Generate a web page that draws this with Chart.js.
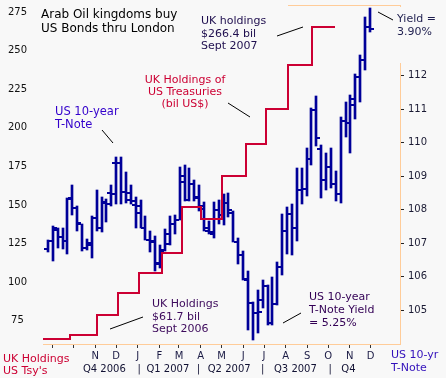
<!DOCTYPE html>
<html>
<head>
<meta charset="utf-8">
<script src="https://cdn.jsdelivr.net/npm/chart.js@4.4.0/dist/chart.umd.min.js"></script>
<style>
html,body{margin:0;padding:0;background:#f8f8f8;}
canvas{display:block;}
</style>
</head>
<body>
<canvas id="c" width="446" height="378"></canvas>
<script>
// ---------- DATA ----------
// Weekly US 10-year T-Note price bars (Fridays)
const weekDates = [
 '2006-08-25','2006-09-01','2006-09-08','2006-09-15','2006-09-22','2006-09-29',
 '2006-10-06','2006-10-13','2006-10-20','2006-10-27','2006-11-03','2006-11-10',
 '2006-11-17','2006-11-24','2006-12-01','2006-12-08','2006-12-15','2006-12-22',
 '2006-12-29','2007-01-05','2007-01-12','2007-01-19','2007-01-26','2007-02-02',
 '2007-02-09','2007-02-16','2007-02-23','2007-03-02','2007-03-09','2007-03-16',
 '2007-03-23','2007-03-30','2007-04-06','2007-04-13','2007-04-20','2007-04-27',
 '2007-05-04','2007-05-11','2007-05-18','2007-05-25','2007-06-01','2007-06-08',
 '2007-06-15','2007-06-22','2007-06-29','2007-07-06','2007-07-13','2007-07-20',
 '2007-07-27','2007-08-03','2007-08-10','2007-08-17','2007-08-24','2007-08-31',
 '2007-09-07','2007-09-14','2007-09-21','2007-09-28','2007-10-05','2007-10-12',
 '2007-10-19','2007-10-26','2007-11-02','2007-11-09','2007-11-16','2007-11-23',
 '2007-11-30'
];
const tnOpen = [
 106.84,107.06,107.41,107.20,107.08,108.36,108.05,107.59,106.85,106.96,107.74,107.45,
 108.20,108.49,109.38,109.38,108.54,108.29,108.15,107.90,107.47,107.10,107.05,106.41,
 106.79,107.28,107.57,107.70,109.00,108.29,108.76,108.38,108.02,107.38,107.28,107.99,
 107.85,108.21,107.91,107.05,106.64,105.92,105.21,104.92,105.31,105.72,104.64,105.19,
 106.29,107.38,107.87,107.46,108.58,108.61,109.50,110.97,109.80,108.88,109.27,108.77,
 108.46,110.63,110.58,111.12,111.95,112.45,113.43
];
const tnHigh = [
 107.10,107.53,107.46,107.46,108.36,108.74,108.12,107.59,107.13,107.80,108.59,108.39,
 108.31,108.73,109.56,109.56,109.13,108.73,108.38,108.29,107.80,107.38,107.23,106.94,
 107.43,107.80,107.84,109.28,109.32,109.25,108.90,108.73,108.24,107.67,108.23,108.28,
 108.48,108.51,107.97,107.16,106.77,106.18,105.26,105.61,105.90,105.75,106.00,106.44,
 107.87,108.07,108.17,109.25,109.25,109.84,111.02,111.39,109.94,109.69,109.84,109.15,
 110.77,111.22,111.43,112.05,112.61,113.73,114.00
];
const tnLow = [
 106.74,106.47,106.87,106.84,106.67,107.85,107.38,106.77,106.81,106.56,107.38,107.33,
 107.62,108.12,108.17,108.18,108.20,108.17,107.46,107.47,107.10,106.74,106.18,106.25,
 106.76,106.96,107.28,107.69,108.26,108.26,108.26,107.97,107.36,107.28,107.16,107.57,
 107.55,107.77,107.03,106.39,105.90,104.42,104.13,104.33,105.07,104.57,104.57,105.16,
 106.05,106.69,106.64,107.08,108.17,108.41,109.33,109.89,108.36,108.58,108.66,108.26,
 108.20,110.18,109.69,110.71,111.22,112.15,113.29
];
const tnClose = [
 107.06,107.46,107.20,107.08,108.33,108.05,107.61,106.85,107.01,107.74,107.45,108.24,
 108.17,108.46,109.38,108.53,108.49,108.26,108.10,107.47,107.10,107.08,106.39,106.74,
 106.98,107.57,107.69,108.83,108.29,108.77,108.36,108.12,107.47,107.33,107.99,107.85,
 108.21,107.99,107.05,106.64,105.95,105.21,104.92,104.94,105.72,104.64,105.19,106.29,
 107.38,107.87,107.46,108.58,108.61,109.50,110.97,110.13,108.88,109.27,108.77,108.46,
 110.63,110.58,111.31,111.95,112.45,113.43,113.38
];

// UK holdings of US Treasuries (bil US$), step series
const ukDates = [
 '2006-08-18','2006-09-26','2006-11-03','2006-12-04','2007-01-03','2007-02-04',
 '2007-03-06','2007-04-01','2007-05-02','2007-06-05','2007-07-04','2007-08-05',
 '2007-09-08','2007-10-11'
];
const ukHoldings = [63.0,65.8,78.6,93.2,106.1,119.2,148.6,140.7,168.5,189.8,211.9,240.8,265.4,265.4];

// Axis ticks
const monthTickDates = ['2006-09-01','2006-10-01','2006-11-01','2006-12-01','2007-01-01','2007-02-01',
 '2007-03-01','2007-04-01','2007-05-01','2007-06-01','2007-07-01','2007-08-01','2007-09-01',
 '2007-10-01','2007-11-01','2007-12-01'];
const monthTickLabels = ['','','N','D','J','F','M','A','M','J','J','A','S','O','N','D'];
const quarterTickDates = ['2006-11-14','2007-01-03','2007-02-13','2007-03-29','2007-05-12',
 '2007-06-29','2007-08-15','2007-10-04','2007-10-30'];
const quarterTickLabels = ['Q4 2006','|','Q1 2007','|','Q2 2007','|','Q3 2007','|','Q4'];
const leftTicks = [75,100,125,150,175,200,225,250,275];
const rightTicks = [105,106,107,108,109,110,111,112];

// ---------- HELPERS ----------
const DAY0 = Date.UTC(2007,0,1);
function toDay(s){const p=s.split('-').map(Number);return (Date.UTC(p[0],p[1]-1,p[2])-DAY0)/86400000;}
const X_MIN = toDay('2006-08-18'), X_MAX = toDay('2008-01-12');
const BG = '#f8f8f8';
const NAVY = '#000099';
const FONT = 'DejaVu Sans';
Chart.defaults.font.family = FONT;

function tickCanvas(side){
  const c=document.createElement('canvas'); c.width=8; c.height=2;
  const g=c.getContext('2d'); g.fillStyle=NAVY;
  if(side==='left') g.fillRect(0,0,3,2); else g.fillRect(5,0,3,2);
  return c;
}

const barData = weekDates.map((d,i)=>({x:toDay(d), y:[tnLow[i], tnHigh[i]]}));
const openData = weekDates.map((d,i)=>({x:toDay(d), y:tnOpen[i]}));
const closeData = weekDates.map((d,i)=>({x:toDay(d), y:tnClose[i]}));
const ukData = ukDates.map((d,i)=>({x:toDay(d), y:ukHoldings[i]}));

function zeroPad(s){s.paddingTop=0;s.paddingBottom=0;s.paddingLeft=0;s.paddingRight=0;}

const annotations = [
 {lines:['Arab Oil kingdoms buy','US Bonds thru London'], x:41, y:18.3, dy:13.4, color:'#000000', size:12, align:'left'},
 {lines:['UK holdings','$266.4 bil','Sept 2007'], x:201, y:24, dy:12.5, color:'#1f0f4f', size:11, align:'left'},
 {lines:['UK Holdings of','US Treasuries','(bil US$)'], x:185, y:83, dy:12, color:'#cc0033', size:11, align:'center'},
 {lines:['US 10-year','T-Note'], x:55, y:115, dy:13.3, color:'#3300cc', size:11.5, align:'left'},
 {lines:['Yield =','3.90%'], x:397, y:21.7, dy:13.3, color:'#1f1f4f', size:11, align:'left'},
 {lines:['UK Holdings','$61.7 bil','Sept 2006'], x:152, y:306.7, dy:12.8, color:'#3d0a5c', size:11, align:'left'},
 {lines:['US 10-year','T-Note Yield','= 5.25%'], x:309, y:300, dy:13, color:'#330055', size:11, align:'left'},
 {lines:['UK Holdings',"US Tsy's"], x:3, y:362, dy:11.5, color:'#cc0033', size:11, align:'left'},
 {lines:['US 10-yr','T-Note'], x:391, y:358.3, dy:12.7, color:'#3311bb', size:11, align:'left'}
];
const leaders = [
 [277,36,303,27],[228,103,250,117],[102,130,113,143],[378,12,393,20],[110,329,143,317],[283,323,301,313]
];

// snap drawn elements to the pixel grid so thin bars stay crisp
const snapPlugin = {
  id:'snap',
  beforeDatasetsDraw(chart){
    chart.getSortedVisibleDatasetMetas().forEach(meta=>{
      meta.data.forEach(el=>{
        el.x = Math.round(el.x);
        if (meta.type==='bar'){ el.y = Math.round(el.y); el.base = Math.round(el.base); }
        else { el.y = Math.round(el.y); }
      });
    });
  }
};

const decorPlugin = {
  id:'decor',
  beforeDraw(chart){
    const ctx=chart.ctx; ctx.save(); ctx.fillStyle=BG; ctx.fillRect(0,0,chart.width,chart.height); ctx.restore();
  },
  afterDraw(chart){
    const ctx=chart.ctx, a=chart.chartArea;
    ctx.save();
    ctx.strokeStyle='#ffcc99'; ctx.lineWidth=1;
    ctx.beginPath(); ctx.moveTo(288, a.top+0.5); ctx.lineTo(a.right+0.5, a.top+0.5); ctx.stroke();
    ctx.fillStyle=BG; ctx.fillRect(a.right-3, a.top+2, 50, 56);
    ctx.strokeStyle='#000'; ctx.lineWidth=1;
    leaders.forEach(l=>{ctx.beginPath();ctx.moveTo(l[0],l[1]);ctx.lineTo(l[2],l[3]);ctx.stroke();});
    ctx.textBaseline='alphabetic';
    annotations.forEach(an=>{
      ctx.font = an.size+'px "'+FONT+'"';
      ctx.fillStyle=an.color; ctx.textAlign=an.align;
      an.lines.forEach((t,i)=>ctx.fillText(t, an.x, an.y + i*an.dy));
    });
    ctx.restore();
  }
};

new Chart(document.getElementById('c'), {
  type:'bar',
  data:{
    datasets:[
      {type:'line', data:ukData, xAxisID:'x', yAxisID:'y', borderColor:'#cc0033', borderWidth:2,
       pointRadius:0, stepped:true, fill:false, order:0},
      {type:'line', data:openData, xAxisID:'x', yAxisID:'y1', showLine:false,
       pointStyle:tickCanvas('left'), pointRadius:3, order:1},
      {type:'line', data:closeData, xAxisID:'x', yAxisID:'y1', showLine:false,
       pointStyle:tickCanvas('right'), pointRadius:3, order:1},
      {type:'bar', data:barData, xAxisID:'x', yAxisID:'y1', backgroundColor:NAVY, borderWidth:0,
       barThickness:2, grouped:false, order:2}
    ]
  },
  options:{
    responsive:false, animation:false, devicePixelRatio:1,
    layout:{padding:{top:2,left:0,right:0,bottom:0}},
    plugins:{legend:{display:false}, tooltip:{enabled:false}},
    scales:{
      x:{type:'linear', position:'bottom', min:X_MIN, max:X_MAX, offset:false,
        afterBuildTicks:s=>{s.ticks=monthTickDates.map(d=>({value:toDay(d)}));},
        ticks:{autoSkip:false, maxRotation:0, minRotation:0, padding:2, color:'#1a1a44',
          font:{size:10}, callback:(v,i)=>monthTickLabels[i]},
        grid:{drawOnChartArea:false, drawTicks:true, tickLength:4, color:'#333333', tickColor:'#333333', offset:false},
        border:{display:true, color:'#ffcc99', width:1},
        afterFit:s=>{s.height=18; zeroPad(s);}
      },
      x2:{type:'linear', position:'bottom', min:X_MIN, max:X_MAX, offset:false,
        afterBuildTicks:s=>{s.ticks=quarterTickDates.map(d=>({value:toDay(d)}));},
        ticks:{autoSkip:false, maxRotation:0, minRotation:0, padding:1, color:'#111133',
          font:{size:10}, callback:(v,i)=>quarterTickLabels[i]},
        grid:{display:false, drawTicks:false}, border:{display:false},
        afterFit:s=>{s.height=16; zeroPad(s);}
      },
      y:{type:'linear', position:'left', min:60, max:279.5,
        afterBuildTicks:s=>{s.ticks=leftTicks.map(v=>({value:v}));},
        ticks:{crossAlign:'center', padding:16, color:'#111111', font:{size:10}},
        grid:{display:false, drawTicks:false}, border:{display:false},
        afterFit:s=>{s.width=43; zeroPad(s);}
      },
      y1:{type:'linear', position:'right', min:104, max:114.1,
        afterBuildTicks:s=>{s.ticks=rightTicks.map(v=>({value:v}));},
        ticks:{padding:4, color:'#1a1a33', font:{size:10}},
        grid:{drawOnChartArea:false, drawTicks:true, tickLength:4, color:'#222222', tickColor:'#222222'},
        border:{display:true, color:'#ffcc99', width:1},
        afterFit:s=>{s.width=46; zeroPad(s);}
      }
    }
  },
  plugins:[snapPlugin, decorPlugin]
});
</script>
</body>
</html>
